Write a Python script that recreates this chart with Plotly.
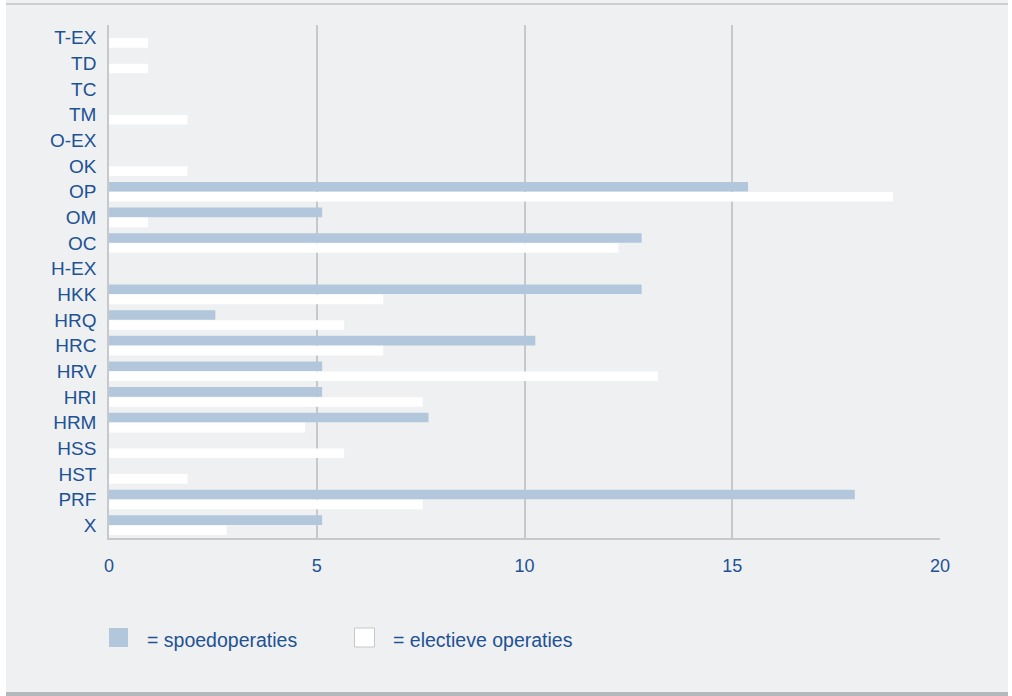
import plotly.graph_objects as go

categories = ["T-EX", "TD", "TC", "TM", "O-EX", "OK", "OP", "OM", "OC", "H-EX",
              "HKK", "HRQ", "HRC", "HRV", "HRI", "HRM", "HSS", "HST", "PRF", "X"]
spoed = [0, 0, 0, 0, 0, 0, 15.38, 5.13, 12.82, 0,
         12.82, 2.56, 10.26, 5.13, 5.13, 7.69, 0, 0, 17.95, 5.13]
electief = [0.94, 0.94, 0, 1.89, 0, 1.89, 18.87, 0.94, 12.26, 0,
            6.60, 5.66, 6.60, 13.21, 7.55, 4.72, 5.66, 1.89, 7.55, 2.83]
x_ticks = [0, 5, 10, 15, 20]
legend_labels = ["= spoedoperaties", "= electieve operaties"]

BLUE = "#b2c7dc"
TEXT = "#1d5294"
BG = "#eff0f2"
GRID = "#c5c9cb"
FONT = "Liberation Sans, Arial, sans-serif"

fig = go.Figure()
fig.add_trace(go.Bar(y=categories, x=spoed, orientation="h", marker=dict(color=BLUE, line=dict(width=0)),
                     name=legend_labels[0], showlegend=False))
fig.add_trace(go.Bar(y=categories, x=electief, orientation="h", marker=dict(color="#ffffff", line=dict(width=0)),
                     name=legend_labels[1], showlegend=False))

W, H = 1012, 696
ml, mr, mt, mb = 109, 72, 25, 158

def px(xp):
    return (xp - ml) / (W - ml - mr)

def py(yp):
    return (H - mb - yp) / (H - mt - mb)

shapes = [
    dict(type="rect", xref="paper", yref="paper", x0=px(6), x1=px(1008), y0=py(692), y1=py(0),
         fillcolor=BG, line=dict(width=0), layer="below"),
    dict(type="line", xref="paper", yref="paper", x0=px(6), x1=px(1008), y0=py(4), y1=py(4),
         line=dict(color="#c2c6c9", width=1.5), layer="below"),
    dict(type="rect", xref="paper", yref="paper", x0=px(6), x1=px(1008), y0=py(696), y1=py(692),
         fillcolor="#b3b9bc", line=dict(width=0), layer="below"),
    dict(type="rect", xref="paper", yref="paper", x0=px(109), x1=px(128), y0=py(647), y1=py(628),
         fillcolor=BLUE, line=dict(width=0)),
    dict(type="rect", xref="paper", yref="paper", x0=px(354.5), x1=px(374.5), y0=py(647), y1=py(628),
         fillcolor="#ffffff", line=dict(color="#c4c8ca", width=1)),
]

annotations = [
    dict(xref="paper", yref="paper", x=px(145), y=py(640), text=legend_labels[0], showarrow=False,
         xanchor="left", yanchor="middle", font=dict(family=FONT, size=19.5, color=TEXT)),
    dict(xref="paper", yref="paper", x=px(391), y=py(640), text=legend_labels[1], showarrow=False,
         xanchor="left", yanchor="middle", font=dict(family=FONT, size=19.5, color=TEXT)),
]

fig.update_layout(
    width=W, height=H,
    margin=dict(l=ml, r=mr, t=mt, b=mb),
    paper_bgcolor="#ffffff",
    plot_bgcolor="rgba(0,0,0,0)",
    barmode="group",
    bargap=0.22,
    bargroupgap=0.04,
    shapes=shapes,
    annotations=annotations,
    showlegend=False,
    xaxis=dict(range=[0, 20], tickvals=x_ticks, ticktext=[str(v) for v in x_ticks],
               showgrid=True, gridcolor=GRID, gridwidth=1.5, zeroline=False,
               showline=True, linecolor=GRID, linewidth=1.5,
               ticks="", ticklabelstandoff=11,
               tickfont=dict(family=FONT, size=18, color=TEXT), fixedrange=True),
    yaxis=dict(autorange="reversed", type="category", showgrid=False, zeroline=False,
               showline=True, linecolor=GRID, linewidth=1.5,
               ticks="", ticklabelstandoff=7,
               tickfont=dict(family=FONT, size=19, color=TEXT), fixedrange=True),
    font=dict(family=FONT, color=TEXT),
)

fig.write_html("out.html")
